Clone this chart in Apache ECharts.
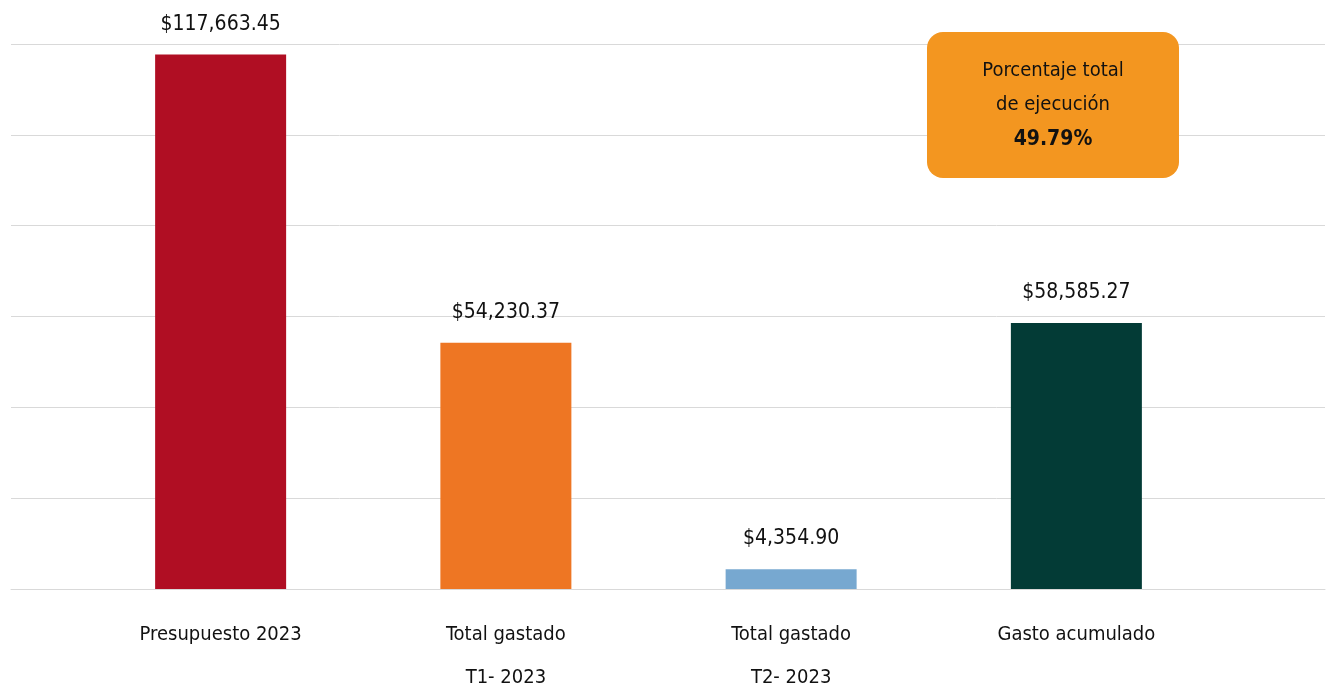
<!DOCTYPE html>
<html>
<head>
<meta charset="utf-8">
<script src="https://cdn.jsdelivr.net/npm/echarts@6/dist/echarts.min.js"></script>
<style>
  html, body { margin: 0; padding: 0; background: #fff; }
  #chart { width: 1327px; height: 693px; }
</style>
</head>
<body>
<div id="chart"></div>
<script>
var categories = ['Presupuesto 2023', 'Total gastado\nT1- 2023', 'Total gastado\nT2- 2023', 'Gasto acumulado'];
var values = [117663.45, 54230.37, 4354.90, 58585.27];
var barColors = ['#B00E23', '#EE7623', '#77A8D0', '#033B36'];
var boxLines = ['Porcentaje total', 'de ejecución', '49.79%'];

var FONT = '"DejaVu Sans Condensed", "Liberation Sans Narrow", "Roboto", sans-serif';

function money(v) {
    var parts = v.toFixed(2).split('.');
    parts[0] = parts[0].replace(/\B(?=(\d{3})+(?!\d))/g, ',');
    return '$' + parts.join('.');
}

var chart = echarts.init(document.getElementById('chart'));

var option = {
    animation: false,
    grid: [
        { left: 11, right: 2, top: 44, bottom: 104, outerBoundsMode: 'none' },
        { left: 78, right: 108, top: 44, bottom: 104, outerBoundsMode: 'none' }
    ],
    xAxis: [
        {
            gridIndex: 0, type: 'category', data: [''],
            axisLine: { show: true, lineStyle: { color: '#d9d9d9', width: 1 } },
            axisTick: { show: false }, axisLabel: { show: false }
        },
        {
            gridIndex: 1, type: 'category', data: categories,
            axisLine: { show: false }, axisTick: { show: false },
            axisLabel: {
                margin: 24, color: '#111', fontFamily: FONT, fontSize: 20, lineHeight: 43
            }
        }
    ],
    yAxis: [
        {
            gridIndex: 0, type: 'value', min: 0, max: 120000, interval: 20000,
            axisLine: { show: false }, axisTick: { show: false }, axisLabel: { show: false },
            splitLine: { show: true, lineStyle: { color: '#d9d9d9', width: 1 } }
        },
        {
            gridIndex: 1, type: 'value', min: 0, max: 120000, interval: 20000,
            axisLine: { show: false }, axisTick: { show: false }, axisLabel: { show: false },
            splitLine: { show: false }
        }
    ],
    series: [
        {
            type: 'bar',
            xAxisIndex: 1,
            yAxisIndex: 1,
            barWidth: 131,
            data: values.map(function(v, i) {
                return { value: v, itemStyle: { color: barColors[i] } };
            }),
            label: {
                show: true,
                position: 'top',
                distance: 20,
                color: '#111',
                fontFamily: FONT,
                fontSize: 21,
                formatter: function(p) { return money(p.value); }
            }
        }
    ],
    graphic: [
        {
            type: 'rect', z: 10,
            left: 927, top: 32,
            shape: { width: 252, height: 146, r: 16 },
            style: { fill: '#F39620' }
        },
        {
            type: 'text', z: 11, x: 1053, y: 71,
            style: { text: boxLines[0], fill: '#111', font: '20px ' + FONT, align: 'center', verticalAlign: 'middle' }
        },
        {
            type: 'text', z: 11, x: 1053, y: 105,
            style: { text: boxLines[1], fill: '#111', font: '20px ' + FONT, align: 'center', verticalAlign: 'middle' }
        },
        {
            type: 'text', z: 11, x: 1053, y: 140,
            style: { text: boxLines[2], fill: '#111', font: 'bold 21px ' + FONT, align: 'center', verticalAlign: 'middle' }
        }
    ]
};

chart.setOption(option);
</script>
</body>
</html>
